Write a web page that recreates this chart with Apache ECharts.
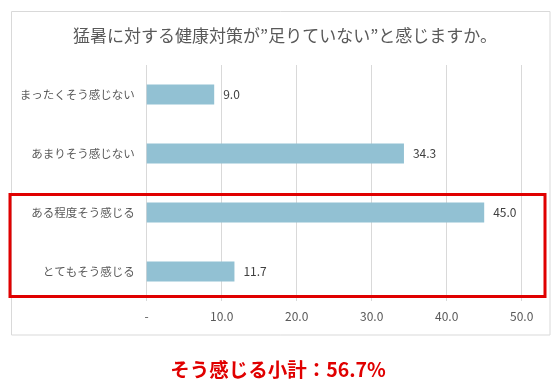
<!DOCTYPE html>
<html><head><meta charset="utf-8">
<script src="https://cdn.jsdelivr.net/npm/echarts@6/dist/echarts.min.js"></script>
<style>html,body{margin:0;padding:0;background:#fff}#c{width:558px;height:385px}</style>
</head><body><div id="c"></div>
<script>
const categories = ['まったくそう感じない','あまりそう感じない','ある程度そう感じる','とてもそう感じる'];
const values = [9.0, 34.3, 45.0, 11.7];
const xTicks = {0:'-',10:'10.0',20:'20.0',30:'30.0',40:'40.0',50:'50.0'};
const titleText = '猛暑に対する健康対策が”足りていない”と感じますか。';
const subtotalText = 'そう感じる小計：56.7%';
const F = '"Noto Sans CJK JP","Noto Sans",sans-serif';
const chart = echarts.init(document.getElementById('c'));
chart.setOption({
  animation:false,
  title:{text:titleText,left:280,top:22,textAlign:'center',textStyle:{fontFamily:F,fontSize:17,fontWeight:'normal',color:'#595959'}},
  grid:{left:146.7,right:36.3,top:65,height:236,containLabel:false},
  xAxis:{type:'value',min:0,max:50,interval:10,
    axisLine:{show:false},axisTick:{show:false},
    splitLine:{show:true,lineStyle:{color:'#d9d9d9',width:1}},
    axisLabel:{formatter:v=>xTicks[v]??'',fontFamily:F,fontSize:12,color:'#595959',margin:9}},
  yAxis:{type:'category',data:categories,inverse:true,
    axisLine:{show:false},axisTick:{show:false},
    axisLabel:{fontFamily:F,fontSize:11.5,color:'#595959',margin:12}},
  series:[{type:'bar',data:values,barWidth:20,itemStyle:{color:'#92c1d3'},
    label:{show:true,position:'right',distance:9,formatter:p=>p.value.toFixed(1),fontFamily:F,fontSize:12,color:'#404040'}}],
  graphic:[
    {type:'rect',shape:{x:11.5,y:11.5,width:538.5,height:323.5},style:{fill:'none',stroke:'#d9d9d9',lineWidth:1},z:-1},
    {type:'rect',shape:{x:10,y:194.5,width:535,height:102},style:{fill:'none',stroke:'#e00000',lineWidth:3},z:100},
    {type:'text',x:278,y:360,style:{text:subtotalText,font:'bold 19.5px '+F,fill:'#e00000',textAlign:'center'}}
  ]
});
</script></body></html>
